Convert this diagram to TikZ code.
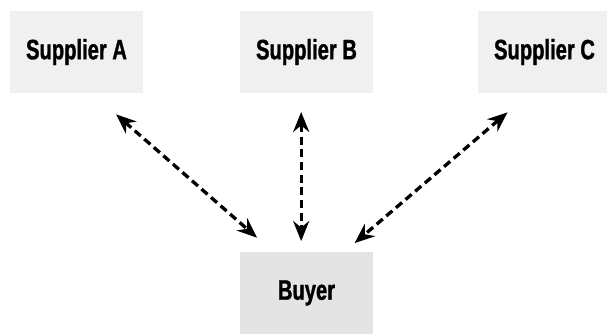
\documentclass[tikz,border=0pt]{standalone}
\usepackage{fontspec}
\setmainfont{Liberation Sans}[FakeStretch=0.72, BoldFeatures={FakeBold=1.2}]
\usetikzlibrary{arrows.meta}
\definecolor{supfill}{HTML}{F0F0F0}
\definecolor{buyfill}{HTML}{E4E4E4}
\begin{document}
\begin{tikzpicture}[x=.75pt, y=-.75pt,
	party/.style={fill=supfill, minimum width=99.75pt, minimum height=61.5pt, inner sep=0pt, font=\fontsize{21}{24}\selectfont\bfseries},
	link/.style={line width=2.5pt, dash pattern=on 6pt off 3.5pt, {Stealth[length=15pt,width=12pt]}-{Stealth[length=15pt,width=12pt]}}]
	\useasboundingbox (0,0) rectangle (607,333);
	\node[party] (supa) at (76.5,52)  {Supplier A};
	\node[party] (supb) at (306.5,52) {Supplier B};
	\node[party] (supc) at (544.5,52) {Supplier C};
	\node[party, fill=buyfill] (buyer) at (306.5,293) {Buyer};
	\draw[link, shorten <=24pt, shorten >=16pt] ([xshift=11.6pt]supa.south) -- ([xshift=-25pt]buyer.north);
	\draw[link, shorten <=14pt, shorten >=8pt]  ([xshift=-4pt]supb.south)  -- ([xshift=-4pt]buyer.north);
	\draw[link, shorten <=22pt, shorten >=10pt] ([xshift=-11pt]supc.south) -- ([xshift=28.5pt]buyer.north);
\end{tikzpicture}
\end{document}
